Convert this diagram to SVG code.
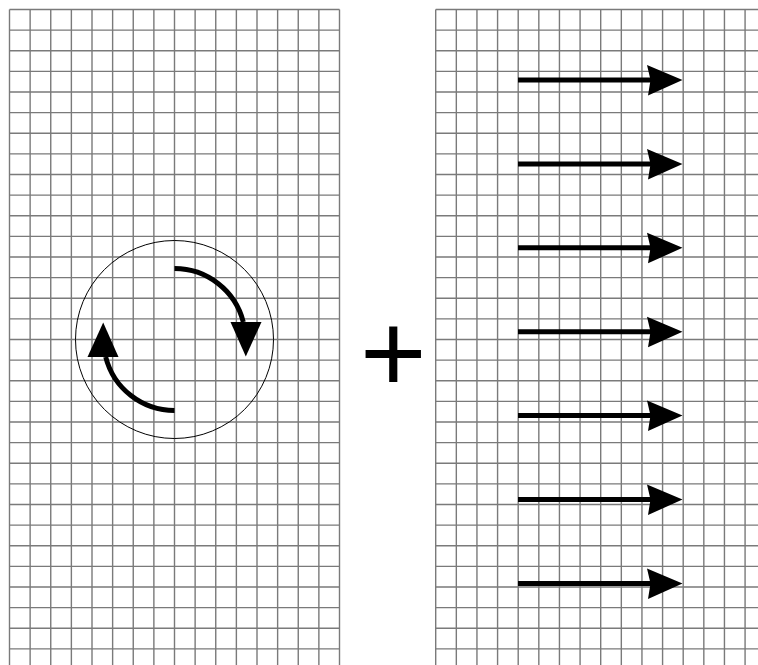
<svg xmlns="http://www.w3.org/2000/svg" width="758" height="665" viewBox="0 0 758 665">
<style>
.grid{stroke:#7a7a7a;stroke-width:1.4;fill:none}
.shaft{stroke:#000;stroke-width:5;fill:none}
.head{fill:#000;stroke:none}
.ring{stroke:#000;stroke-width:1;fill:none}
.plus{font-family:"Liberation Sans",Arial,sans-serif;font-size:114px;fill:#000}
</style>
<rect width="758" height="665" fill="#fff"/>
<g id="left-grid" class="grid">
<path d="M9.5 9.5V665M30.125 9.5V665M50.75 9.5V665M71.375 9.5V665M92 9.5V665M112.625 9.5V665M133.25 9.5V665M153.875 9.5V665M174.5 9.5V665M195.125 9.5V665M215.75 9.5V665M236.375 9.5V665M257 9.5V665M277.625 9.5V665M298.25 9.5V665M318.875 9.5V665M339.5 9.5V665"/>
<path d="M9.5 9.5H339.5M9.5 30.125H339.5M9.5 50.75H339.5M9.5 71.375H339.5M9.5 92H339.5M9.5 112.625H339.5M9.5 133.25H339.5M9.5 153.875H339.5M9.5 174.5H339.5M9.5 195.125H339.5M9.5 215.75H339.5M9.5 236.375H339.5M9.5 257H339.5M9.5 277.625H339.5M9.5 298.25H339.5M9.5 318.875H339.5M9.5 339.5H339.5M9.5 360.125H339.5M9.5 380.75H339.5M9.5 401.375H339.5M9.5 422H339.5M9.5 442.625H339.5M9.5 463.25H339.5M9.5 483.875H339.5M9.5 504.5H339.5M9.5 525.125H339.5M9.5 545.75H339.5M9.5 566.375H339.5M9.5 587H339.5M9.5 607.625H339.5M9.5 628.25H339.5M9.5 648.875H339.5"/>
</g>
<g id="right-grid" class="grid">
<path d="M435.7 9.5V665M456.325 9.5V665M476.95 9.5V665M497.575 9.5V665M518.2 9.5V665M538.825 9.5V665M559.45 9.5V665M580.075 9.5V665M600.7 9.5V665M621.325 9.5V665M641.95 9.5V665M662.575 9.5V665M683.2 9.5V665M703.825 9.5V665M724.45 9.5V665M745.075 9.5V665"/>
<path d="M435.7 9.5H758M435.7 30.125H758M435.7 50.75H758M435.7 71.375H758M435.7 92H758M435.7 112.625H758M435.7 133.25H758M435.7 153.875H758M435.7 174.5H758M435.7 195.125H758M435.7 215.75H758M435.7 236.375H758M435.7 257H758M435.7 277.625H758M435.7 298.25H758M435.7 318.875H758M435.7 339.5H758M435.7 360.125H758M435.7 380.75H758M435.7 401.375H758M435.7 422H758M435.7 442.625H758M435.7 463.25H758M435.7 483.875H758M435.7 504.5H758M435.7 525.125H758M435.7 545.75H758M435.7 566.375H758M435.7 587H758M435.7 607.625H758M435.7 628.25H758M435.7 648.875H758"/>
</g>
<g id="vortex">
<circle class="ring" cx="174.5" cy="339.5" r="99"/>
<g id="arc-right">
<path class="shaft" d="M174.5 268.5A71 71 0 0 1 243.3 322"/>
<path class="head" d="M230.5 322L261.5 322L245.8 356.5Z"/>
</g>
<g id="arc-left" transform="rotate(180 174.5 339.5)">
<path class="shaft" d="M174.5 268.5A71 71 0 0 1 243.3 322"/>
<path class="head" d="M230.5 322L261.5 322L245.8 356.5Z"/>
</g>
</g>
<g id="plus">
<text class="plus" x="393.3" y="392" text-anchor="middle">+</text>
</g>
<g id="flow-arrows">
<g id="a1"><path class="shaft" d="M518 80H652"/><path class="head" d="M682.5 80L647 65L650.5 80L648 95.5Z"/></g>
<g id="a2"><path class="shaft" d="M518 163.9H652"/><path class="head" d="M682.5 163.9L647 148.9L650.5 163.9L648 179.4Z"/></g>
<g id="a3"><path class="shaft" d="M518 247.8H652"/><path class="head" d="M682.5 247.8L647 232.8L650.5 247.8L648 263.3Z"/></g>
<g id="a4"><path class="shaft" d="M518 331.7H652"/><path class="head" d="M682.5 331.7L647 316.7L650.5 331.7L648 347.2Z"/></g>
<g id="a5"><path class="shaft" d="M518 415.6H652"/><path class="head" d="M682.5 415.6L647 400.6L650.5 415.6L648 431.1Z"/></g>
<g id="a6"><path class="shaft" d="M518 499.5H652"/><path class="head" d="M682.5 499.5L647 484.5L650.5 499.5L648 515Z"/></g>
<g id="a7"><path class="shaft" d="M518 583.4H652"/><path class="head" d="M682.5 583.4L647 568.4L650.5 583.4L648 598.9Z"/></g>
</g>
</svg>
